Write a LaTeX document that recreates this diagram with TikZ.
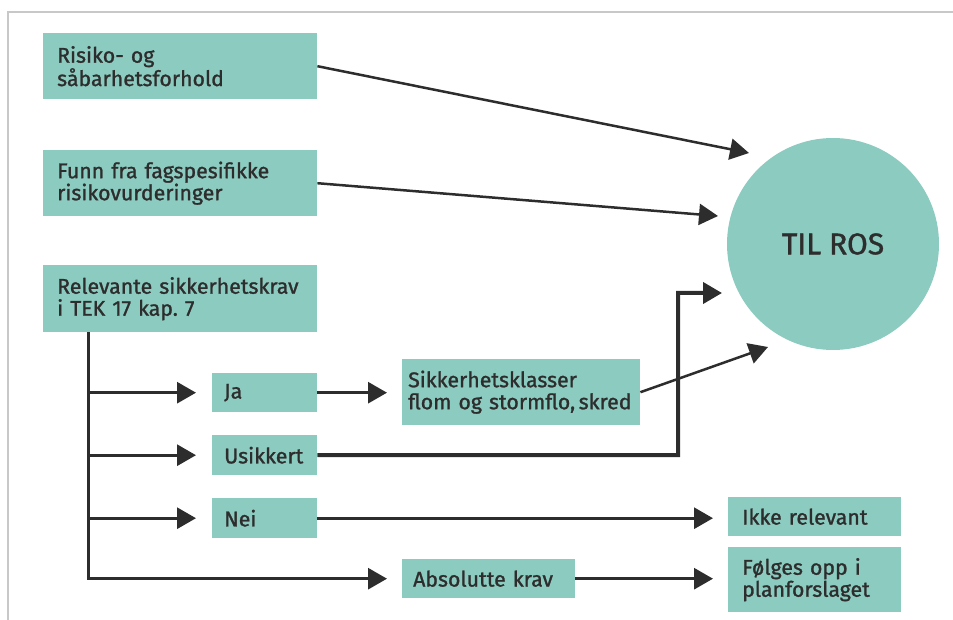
\documentclass[tikz,border=0pt]{standalone}
\usepackage{fontspec}
\setmainfont{Fira Sans}
\newfontfamily\boxfont{Fira Sans}[FakeBold=1.2]
\frenchspacing
\usetikzlibrary{arrows.meta,calc}
\definecolor{teal1}{RGB}{140,203,192}
\definecolor{ink}{RGB}{45,45,45}
\definecolor{frame}{RGB}{200,200,200}
\tikzset{
  box/.style={fill=teal1, text=ink, anchor=north west, align=left, inner ysep=0pt,
    font=\boxfont\fontsize{21.3}{22}\selectfont},
  conn/.style={draw=ink, line width=3pt, -{Triangle[length=19pt,width=21pt]}},
  plain/.style={draw=ink, line width=3pt}
}
\begin{document}
\begin{tikzpicture}[x=1pt,y=-1pt]
\useasboundingbox (0,0) rectangle (953,620);
% frame
\draw[frame, line width=1.5pt] (8,620) -- (8,12) -- (953,12);

% boxes: (x,y) top-left, width W = text width + 2*pad
\node[box, inner xsep=14pt, text width=246pt, minimum height=66pt] (r1) at (43,33) {Risiko- og\\såbarhetsforhold};
\node[box, inner xsep=14pt, text width=246pt, minimum height=66pt] (r2) at (43,150) {Funn fra fagspesifikke\\risikovurderinger};
\node[box, inner xsep=14pt, text width=246pt, minimum height=67pt] (r3) at (43,265) {Relevante sikkerhetskrav\\i TEK 17 kap. 7};
\node[box, inner xsep=12pt, text width=81pt, minimum height=39pt] (ja) at (212,373) {Ja};
\node[box, inner xsep=12pt, text width=81pt, minimum height=40pt] (us) at (212,435) {Usikkert};
\node[box, inner xsep=12pt, text width=81pt, minimum height=40pt] (nei) at (212,498) {Nei};
\node[box, inner xsep=11pt, text width=151pt, minimum height=39pt] (abs) at (402,559) {Absolutte krav};
\node[box, inner xsep=6pt, text width=226pt, minimum height=66pt] (sik) at (402,359) {Sikkerhetsklasser\\flom og stormflo,\,skred};
\node[box, inner xsep=14pt, text width=145pt, minimum height=39pt] (ikke) at (728,497) {Ikke relevant};
\node[box, inner xsep=14pt, text width=145pt, minimum height=65pt] (folg) at (728,547) {Følges opp i\\planforslaget};

% circle
\node[circle, fill=teal1, minimum size=212pt, inner sep=0pt, text=ink,
  font=\boxfont\fontsize{30}{32}\selectfont] (ros) at (833,244) {TIL ROS};

% arrow end points near the circle
\coordinate (t1) at (749,153);
\coordinate (t2) at (718,216);
\coordinate (t3) at (722,293);
\coordinate (t4) at (768,347);

\draw[conn, line width=2.5pt] (r1.east) -- (t1);
\draw[conn, line width=2.5pt] (r2.east) -- (t2);
\draw[conn, line width=4pt] (us.east) -- (678,455) |- (t3);
\draw[conn, line width=2.5pt] (sik.east) -- (t4);

% trunk
\coordinate (tk) at ([xshift=45pt]r3.south west);
\draw[conn, shorten >=15pt] (tk) -- (tk |- abs.west) -- (abs.west);
\draw[conn, shorten >=16pt] (tk |- ja.west) -- (ja.west);
\draw[conn, shorten >=16pt] (tk |- us.west) -- (us.west);
\draw[conn, shorten >=16pt] (tk |- nei.west) -- (nei.west);

\draw[conn, shorten >=15pt] (ja.east) -- (sik.west |- ja.east);
\draw[conn, shorten >=15pt] (nei.east) -- (ikke.west |- nei.east);
\draw[conn, shorten >=15pt] (abs.east) -- (folg.west |- abs.east);
\end{tikzpicture}
\end{document}
